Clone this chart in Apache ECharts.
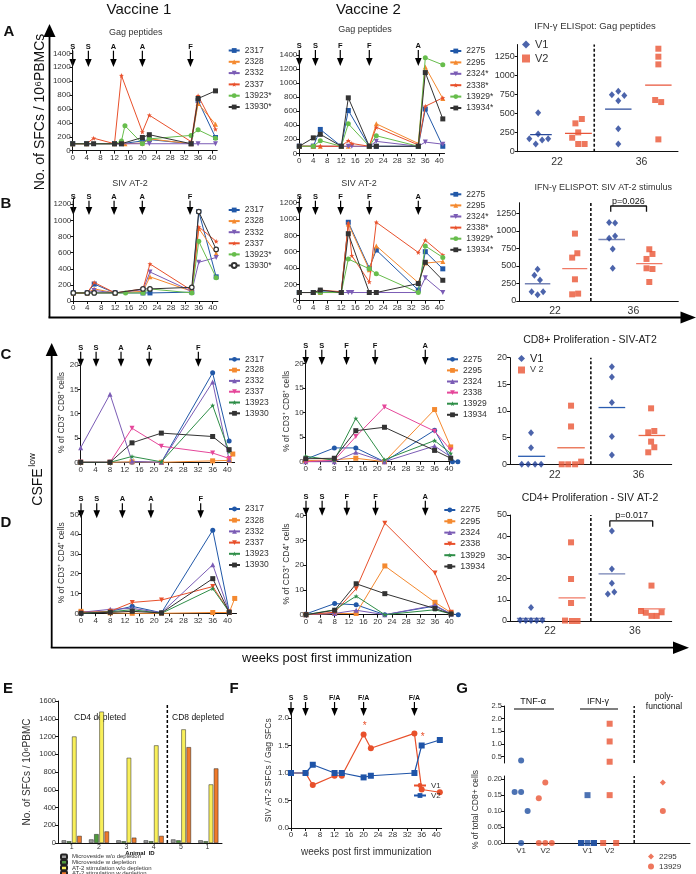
<!DOCTYPE html>
<html><head><meta charset="utf-8">
<script src="https://cdn.jsdelivr.net/npm/echarts@6/dist/echarts.min.js"></script>
<style>html,body{margin:0;padding:0;background:#fff}#c{width:696px;height:874px}</style>
</head><body><div id="c"></div>
<script>
// ================= DATA =================
const idsV1 = ['2317','2328','2332','2337','13923*','13930*'];
const idsV2 = ['2275','2295','2324*','2338*','13929*','13934*'];
const idsV1c = ['2317','2328','2332','2337','13923','13930'];
const idsV2c = ['2275','2295','2324','2338','13929','13934'];
const weekTicks = [0,4,8,12,16,20,24,28,32,36,40];

// Panel A: Gag peptides, SFCs / 10^6 PBMC, [week, value]
const gagV1 = [
  [[0,100],[4,100],[12,100],[14,100],[20,140],[22,160],[34,100],[36,720],[41,190]],
  [[0,100],[4,100],[12,100],[15,100],[20,110],[22,170],[34,100],[36,680],[41,380]],
  [[0,100],[4,100],[12,100],[14,100],[20,100],[22,100],[34,100],[36,100],[41,100]],
  [[0,100],[4,100],[6,180],[12,100],[14,1080],[20,270],[22,510],[34,130],[36,790],[41,310]],
  [[0,100],[4,100],[12,100],[14,140],[15,360],[20,100],[22,170],[34,220],[36,300],[41,180]],
  [[0,100],[4,100],[6,100],[12,100],[14,100],[20,190],[22,230],[34,100],[36,750],[41,860]]
];
const gagV2 = [
  [[0,100],[4,100],[6,340],[12,100],[14,610],[20,100],[22,100],[34,100],[36,630],[41,100]],
  [[0,100],[4,100],[6,100],[12,100],[14,100],[20,100],[22,420],[34,140],[36,1230],[41,780]],
  [[0,100],[4,100],[12,100],[14,100],[15,100],[20,100],[22,170],[34,100],[36,160],[41,130]],
  [[0,100],[4,100],[6,100],[12,100],[14,180],[15,140],[20,100],[22,370],[34,120],[36,670],[41,790]],
  [[0,100],[4,100],[6,180],[12,100],[14,420],[20,100],[22,250],[34,100],[36,1360],[41,1260]],
  [[0,100],[4,220],[6,270],[12,100],[14,790],[20,100],[22,100],[34,100],[36,1150],[41,490]]
];
// Panel B: SIV AT-2
const atV1 = [
  [[0,100],[4,100],[6,210],[12,100],[20,100],[22,100],[34,110],[36,1110],[41,300]],
  [[0,100],[4,100],[6,150],[12,100],[20,120],[22,300],[34,120],[36,900],[41,590]],
  [[0,100],[4,100],[6,130],[12,100],[20,140],[22,360],[34,120],[36,480],[41,540]],
  [[0,100],[4,100],[6,230],[12,100],[20,150],[22,460],[34,130],[36,920],[41,740]],
  [[0,100],[4,100],[6,100],[12,100],[15,100],[20,100],[22,150],[34,100],[36,740],[41,290]],
  [[0,100],[4,100],[6,100],[12,100],[20,150],[22,150],[34,170],[36,1110],[41,640]]
];
const atV2 = [
  [[0,100],[4,100],[6,110],[12,100],[14,960],[20,400],[22,620],[34,130],[36,600],[41,390]],
  [[0,100],[4,100],[6,100],[12,100],[14,940],[20,380],[22,670],[34,220],[36,460],[41,480]],
  [[0,100],[4,100],[6,100],[12,100],[14,100],[15,100],[20,100],[22,100],[34,100],[36,280],[41,100]],
  [[0,100],[4,100],[6,130],[12,110],[14,950],[15,550],[20,230],[22,960],[34,590],[36,740],[41,560]],
  [[0,100],[4,100],[6,100],[12,100],[14,510],[20,390],[22,330],[34,100],[36,670],[41,530]],
  [[0,100],[4,100],[6,130],[12,100],[14,820],[20,100],[22,100],[34,210],[36,470],[41,250]]
];
// Panel C: % CFSE-low of CD3+CD8+
const cd8V1 = [
  [[0,0],[8,0],[14,0],[22,0],[36,18.4],[40.5,4.4]],
  [[0,0],[8,0],[14,0.1],[22,0],[36,0.3],[40.5,0.4],[41.5,1.7]],
  [[0,3.0],[8,14.0],[14,0.2],[22,0],[36,16.5],[40.5,0.5]],
  [[0,0],[8,0],[14,7.0],[22,3.3],[36,1.9],[40.5,0.8]],
  [[0,0],[8,0],[14,1.2],[22,0.1],[36,11.7],[40.5,2.2]],
  [[0,0],[8,0],[14,4.0],[22,6.0],[36,5.3],[40.5,2.6]]
];
const cd8V2 = [
  [[0,0.5],[8,2.8],[14,2.8],[22,0],[36,6.4],[41,0],[42.5,0]],
  [[0,0.2],[8,0.4],[14,0.7],[22,0],[36,10.6],[40.5,3.0]],
  [[0,0],[8,0],[14,1.9],[22,0],[36,3.2],[40.5,1.0]],
  [[0,0],[8,0.3],[14,5.1],[22,11.1],[36,6.2],[40.5,2.4]],
  [[0,1.1],[8,0.3],[14,8.8],[22,0.4],[36,4.3],[40.5,1.7]],
  [[0,0.6],[8,0.7],[14,6.3],[22,7.0],[36,2.3],[40.5,0.7]]
];
// Panel D: % CFSE-low of CD3+CD4+
const cd4V1 = [
  [[0,0],[8,1.0],[14,3.5],[22,0.3],[36,42],[40.5,0.8]],
  [[0,1.0],[8,0.2],[14,0],[22,0],[36,0.4],[40.5,0.4],[42,7.5]],
  [[0,0.5],[8,2.0],[14,2.5],[22,0.3],[36,24.5],[40.5,0.8]],
  [[0,0.3],[8,1.0],[14,5.5],[22,6.7],[36,13.5],[40.5,0.8]],
  [[0,0],[8,0.8],[14,1.8],[22,0],[36,12.5],[40.5,0.7]],
  [[0,0],[8,0.5],[14,1.0],[22,0.2],[36,17.5],[40.5,0.5]]
];
const cd4V2 = [
  [[0,0.3],[8,4.5],[14,4.0],[22,0],[36,3.5],[40.5,0.3],[42.5,0]],
  [[0,0],[8,0.5],[14,0.5],[22,19.7],[36,5.0],[40.5,0.8]],
  [[0,0],[8,0.5],[14,1.8],[22,0],[36,3.8],[40.5,0.3]],
  [[0,0],[8,1.0],[14,10.5],[22,37],[36,16.8],[40.5,1.0]],
  [[0,0],[8,2.0],[14,7.5],[22,0],[36,2.0],[40.5,0.3]],
  [[0,0],[8,1.8],[14,12.5],[22,8.5],[36,2.5],[40.5,0.3]]
];
// immunization arrows
const arrowLabV1 = ['S','S','A','A','F'];
const arrowLabV2 = ['S','S','F','F','A'];
const arrowsA1 = [0,4.5,11.7,20,33.8], arrowsA2 = [0,4.6,11.7,20,34];
const arrowsB1 = [0,4.5,11.7,19.8,33.5], arrowsB2 = [0,4.6,11.8,20,34];
const arrowsC1 = [0,4.2,11,18.7,32.1], arrowsC2 = [0,4.5,11.4,19.4,33.4];
const arrowsD1 = [0,4.3,11.3,19.1,32.7], arrowsD2 = [0,4.5,11.4,19.4,33.3];

// Scatter summaries (week 22 / 36): values and jitter positions
const sA = {v1_22:[513,232,171,101,154,171], v2_22:[430,373,254,184,101,101], v1_36:[794,750,741,671,303,101], v2_36:[1355,1250,1149,680,653,162]};
const jA = {v1_22:[0.51,0.51,0.29,0.45,0.61,0.76], v2_22:[1.60,1.44,1.51,1.36,1.51,1.67], v1_36:[2.51,2.35,2.66,2.51,2.51,2.51], v2_36:[3.51,3.51,3.51,3.43,3.58,3.51]};
const sB = {v1_22:[452,366,299,133,133,90], v2_22:[960,680,618,309,95,105], v1_36:[1117,1112,927,894,741,466], v2_36:[737,670,599,466,456,271]};
const jB = {v1_22:[0.46,0.38,0.52,0.31,0.6,0.46], v2_22:[1.40,1.46,1.33,1.40,1.33,1.48], v1_36:[2.26,2.41,2.41,2.26,2.35,2.35], v2_36:[3.27,3.35,3.2,3.2,3.35,3.27]};
const sC = {v1_22:[5.9,3.1,0,0,0,0], v2_22:[11.0,7.1,0,0,0,0.5], v1_36:[18.3,16.4,11.6,5.2,1.75], v2_36:[10.5,6.0,6.25,4.25,2.25,3.2]};
const jC = {v1_22:[0.52,0.52,0.29,0.45,0.62,0.77], v2_22:[1.51,1.51,1.28,1.44,1.61,1.76], v1_36:[2.52,2.52,2.52,2.52,2.52], v2_36:[3.49,3.42,3.57,3.49,3.42,3.57]};
const sD = {v1_22:[6.4,0.3,0.2,0.2,0.2,0.3], v2_22:[37.1,19.8,8.5,0.2,0,0], v1_36:[42.5,24.5,17.8,12.7,13.7], v2_36:[16.7,4.7,3.9,2.4,2.4,4.1]};
const jD = {v1_22:[0.52,0.25,0.39,0.52,0.66,0.8], v2_22:[1.51,1.51,1.51,1.36,1.53,1.67], v1_36:[2.52,2.52,2.52,2.42,2.58], v2_36:[3.5,3.24,3.36,3.5,3.63,3.75]};

// Panel E: bars
const eCats = ['1','2','3','4','5','1 '];
const eNames = ['Microveside w/o depletion','Microveside w depletion','AT-2 stimulation w/o depletion','AT-2 stimulation w depletion'];
const eGray = [30,40,30,30,40,30];
const eGreen = [20,100,20,20,30,20];
const eYellow = [1200,1480,960,1100,1280,660];
const eOrange = [80,130,60,80,1080,840];

// Panel F: ratio AT-2 / Gag
const fV1 = [[0,1.0],[4,1.0],[6,0.78],[12,0.95],[14,0.95],[20,1.7],[22,1.45],[34,1.72],[36,0.7],[41,0.65]];
const fV2 = [[0,1.0],[4,1.0],[6,1.15],[12,1.0],[14,1.0],[20,0.92],[22,0.95],[34,1.0],[36,1.5],[41,1.6]];
const arrowsF = [0,4,12,20,34];
const arrowLabF = ['S','S','F/A','F/A','F/A'];

// Panel G: % of total CD8+
const gTnfV1 = [0.35,0.16,0.16,0.10,0.0];
const gTnfV2 = [0.19,0.14,0.0,0.0,0.0];
const gIfnV1 = [0.15,0,0,0,0,0];
const gIfnV2 = [1.8,1.1,0.3,0.15,0,0];
const gPoly2295 = [0.19];
const gPoly13929 = [0.1];

// ================= STYLE =================
const FONT = "'Liberation Sans', Arial, Helvetica, sans-serif";
const BLUE='#2158a8', ORANGE='#f4892f', PURPLE='#7b5cb5', RED='#e8502b', GREEN='#67bd4c', BLACK='#333333', PINK='#e5479a', DGREEN='#2f8e48';
const STAR='path://M5,0 L6.2,3.6 L10,3.8 L7,6.1 L8.1,10 L5,7.7 L1.9,10 L3,6.1 L0,3.8 L3.8,3.6 Z';
const DOWN='path://M0,0 L10,0 L5,9 Z';
const stAB1 = [{c:BLUE,s:'rect'},{c:ORANGE,s:'triangle'},{c:PURPLE,s:DOWN},{c:RED,s:STAR},{c:GREEN,s:'circle'},{c:BLACK,s:'rect'}];
const stB1 = [{c:BLUE,s:'rect'},{c:ORANGE,s:'triangle'},{c:PURPLE,s:DOWN},{c:RED,s:STAR},{c:GREEN,s:'circle'},{c:BLACK,s:'circle',hollow:true}];
const stC = [{c:BLUE,s:'circle'},{c:ORANGE,s:'rect'},{c:PURPLE,s:'triangle'},{c:PINK,s:DOWN},{c:DGREEN,s:STAR},{c:BLACK,s:'rect'}];
const stD = [{c:BLUE,s:'circle'},{c:ORANGE,s:'rect'},{c:PURPLE,s:'triangle'},{c:RED,s:DOWN},{c:DGREEN,s:STAR},{c:BLACK,s:'rect'}];

const grids=[], xAxes=[], yAxes=[], series=[], legends=[];
const AX = {color:'#111', width:1};
const lab = (fs) => ({fontSize:fs, color:'#333', fontFamily:FONT});
const plain = v => String(v);

function lineGrid(o){
  const gi = grids.length;
  grids.push({left:o.x0, top:o.y0-o.ymax*o.ys, width:o.xmax*o.xs, height:o.ymax*o.ys});
  xAxes.push({gridIndex:gi, type:'value', min:0, max:o.xmax, axisLine:{show:true,onZero:false,lineStyle:AX},
    axisTick:{show:true,length:3,customValues:o.xTicks||weekTicks,lineStyle:AX},
    axisLabel:Object.assign({customValues:o.xTicks||weekTicks, margin:3, formatter:plain}, lab(o.xfs||8)), splitLine:{show:false}});
  yAxes.push({gridIndex:gi, type:'value', min:0, max:o.ymax, axisLine:{show:true,lineStyle:AX},
    axisTick:{show:true,length:3,customValues:o.yTicks,lineStyle:AX},
    axisLabel:Object.assign({customValues:o.yTicks, margin:2, formatter:o.yFmt||plain}, lab(o.yfs||8)), splitLine:{show:false},
    name:o.yName||'', nameLocation:'middle', nameGap:o.nameGap||20, nameTextStyle:lab(o.nfs||8.5)});
  return gi;
}
function addLines(gi, prefix, ids, data, st, size){
  ids.forEach((id,i)=>{
    const s = st[i];
    series.push({type:'line', name:prefix+id, xAxisIndex:gi, yAxisIndex:gi, data:data[i],
      symbol:s.s, symbolSize:s.hollow?4.5:(size||5), showAllSymbol:true, clip:false,
      lineStyle:{color:s.c,width:1}, itemStyle:{color:s.hollow?'#fff':s.c, borderColor:s.c, borderWidth:s.hollow?1.2:0},
      emphasis:{disabled:true}, z:3+i});
  });
}
function addLegend(prefix, ids, left, top, gap, fs, iw){
  legends.push({orient:'vertical', left, top, padding:0, itemWidth:iw||11, itemHeight:6, itemGap:gap, selectedMode:false,
    data:ids.map(id=>prefix+id), formatter:n=>n.slice(n.indexOf('|')+1),
    textStyle:Object.assign({lineHeight:10}, lab(fs||8.5))});
}
function scatterGrid(o){
  const gi = grids.length;
  grids.push({left:o.left, top:o.y0-o.ymax*o.ys, width:o.width, height:o.ymax*o.ys});
  xAxes.push({gridIndex:gi, type:'value', min:0, max:4, axisLine:{show:true,onZero:false,lineStyle:AX},
    axisTick:{show:false}, axisLabel:Object.assign({customValues:o.xLab, margin:5, formatter:v=>v<2?'22':'36'}, lab(10.5)), splitLine:{show:false}});
  yAxes.push({gridIndex:gi, type:'value', min:0, max:o.ymax, axisLine:{show:true,lineStyle:AX},
    axisTick:{show:true,length:3,customValues:o.yTicks,lineStyle:AX},
    axisLabel:Object.assign({customValues:o.yTicks, margin:3, formatter:plain}, lab(9)), splitLine:{show:false}});
  return gi;
}
const mean = a => a.reduce((s,v)=>s+v,0)/a.length;
function addScatter(gi, prefix, S, J, spans, dashX, mc, sz){
  const pts = (k)=>S[k].map((v,i)=>[J[k][i], v]);
  series.push({type:'scatter', name:prefix+'V1', xAxisIndex:gi, yAxisIndex:gi, symbol:'diamond', symbolSize:sz||[6,7],
    itemStyle:{color:'#1f3d96'}, data:pts('v1_22').concat(pts('v1_36')), z:5, emphasis:{disabled:true}});
  series.push({type:'scatter', name:prefix+'V2', xAxisIndex:gi, yAxisIndex:gi, symbol:'rect', symbolSize:6,
    itemStyle:{color:'#ea5535'}, data:pts('v2_22').concat(pts('v2_36')), z:5, emphasis:{disabled:true}});
  ['v1_22','v2_22','v1_36','v2_36'].forEach((k,i)=>{
    const m = mean(S[k]);
    series.push({type:'line', xAxisIndex:gi, yAxisIndex:gi, data:[[spans[i][0],m],[spans[i][1],m]], symbol:'none',
      lineStyle:{color:k[1]==='1'?mc[0]:mc[1], width:1.3}, z:4, silent:true});
  });
  const ymax = yAxes[gi].max;
  series.push({type:'line', xAxisIndex:gi, yAxisIndex:gi, data:[[dashX,0],[dashX,ymax]], symbol:'none',
    lineStyle:{color:'#111', width:1.6, type:[3,2]}, z:2, silent:true});
}

// ---- Panel A
const gA1 = lineGrid({x0:72.7, xs:3.483, xmax:41.5, y0:150.7, ys:0.06957, ymax:1450, yTicks:[0,200,400,600,800,1000,1200,1400]});
addLines(gA1,'A1|',idsV1,gagV1,stAB1);
addLegend('A1|',idsV1,227.7,45.5,1.3);
const gA2 = lineGrid({x0:299.3, xs:3.5, xmax:41.5, y0:153.3, ys:0.0702, ymax:1450, yTicks:[0,200,400,600,800,1000,1200,1400]});
addLines(gA2,'A2|',idsV2,gagV2,stAB1);
addLegend('A2|',idsV2,449.3,46,1.4);
const gA3 = scatterGrid({left:517.7, width:160.3, y0:151.7, ys:0.076, ymax:1410, yTicks:[0,250,500,750,1000,1250], xLab:[0.98,3.09]});
addScatter(gA3,'A3|',sA,jA,[[0.31,0.85],[1.18,1.85],[2.18,2.84],[3.18,3.84]],1.91,['#2a4a9a','#e8553a']);
legends.push({orient:'vertical', left:522, top:39, padding:0, itemWidth:8, itemHeight:8, itemGap:3, selectedMode:false,
  data:['A3|V1','A3|V2'], formatter:n=>n.slice(3), textStyle:Object.assign({lineHeight:10}, lab(11))});

// ---- Panel B
const gB1 = lineGrid({x0:73.3, xs:3.485, xmax:41.5, y0:301, ys:0.0806, ymax:1280, yTicks:[0,200,400,600,800,1000,1200]});
addLines(gB1,'B1|',idsV1,atV1,stB1);
addLegend('B1|',idsV1,227.7,205,1.1);
const gB2 = lineGrid({x0:299.3, xs:3.5, xmax:41.5, y0:300.7, ys:0.0817, ymax:1270, yTicks:[0,200,400,600,800,1000,1200]});
addLines(gB2,'B2|',idsV2,atV2,stAB1);
addLegend('B2|',idsV2,449.3,189.3,1.1);
const gB3 = scatterGrid({left:519.3, width:159, y0:301, ys:0.0702, ymax:1400, yTicks:[0,250,500,750,1000,1250], xLab:[0.9,2.87]});
addScatter(gB3,'B3|',sB,jB,[[0.14,0.78],[1.08,1.71],[1.99,2.66],[2.94,3.6]],1.80,['#7482b4','#f07a66']);
series.push({type:'line', xAxisIndex:gB3, yAxisIndex:gB3, data:[[2.30,1272],[2.30,1353],[3.2,1353],[3.2,1272]], symbol:'none', lineStyle:{color:'#111',width:1.3}, silent:true});

// ---- Panel C
const gC1 = lineGrid({x0:80.7, xs:3.665, xmax:42, y0:462.3, ys:4.865, ymax:20.5, yTicks:[0,5,10,15,20], yName:'% of CD3⁺ CD8⁺ cells', nameGap:14});
addLines(gC1,'C1|',idsV1c,cd8V1,stC);
addLegend('C1|',idsV1c,228,354.3,0.8);
const gC2 = lineGrid({x0:305.7, xs:3.58, xmax:43, y0:461.7, ys:4.92, ymax:20.5, yTicks:[0,5,10,15,20], yName:'% of CD3⁺ CD8⁺ cells', nameGap:14});
addLines(gC2,'C2|',idsV2c,cd8V2,stC);
addLegend('C2|',idsV2c,446,354.3,1.1);
const gC3 = scatterGrid({left:510, width:161.7, y0:464.3, ys:5.33, ymax:20, yTicks:[0,5,10,15,20], xLab:[1.11,3.18]});
addScatter(gC3,'C3|',sC,jC,[[0.2,0.87],[1.17,1.85],[2.19,2.85],[3.18,3.84]],2.0,['#2a5cb0','#e96a4a']);
legends.push({orient:'vertical', left:518, top:353, padding:0, itemWidth:7, itemHeight:7, itemGap:1, selectedMode:false,
  data:['C3|V1','C3|V2'], formatter:n=>n==='C3|V1'?'{a|V1}':'{b|V 2}',
  textStyle:Object.assign({lineHeight:10, rich:{a:{fontSize:11,color:'#222',fontFamily:FONT},b:{fontSize:9,color:'#444',fontFamily:FONT}}}, lab(10))});

// ---- Panel D
const gD1 = lineGrid({x0:81, xs:3.66, xmax:42.5, y0:613.3, ys:1.98, ymax:51, yTicks:[0,10,20,30,40,50], yName:'% of CD3⁺ CD4⁺ cells', nameGap:14});
addLines(gD1,'D1|',idsV1c,cd4V1,stD);
addLegend('D1|',idsV1c,228,504,1.2);
const gD2 = lineGrid({x0:306, xs:3.583, xmax:43, y0:614.7, ys:2.475, ymax:41, yTicks:[0,10,20,30,40], yName:'% of CD3⁺ CD4⁺ cells', nameGap:14});
addLines(gD2,'D2|',idsV2c,cd4V2,stD);
addLegend('D2|',idsV2c,443.3,505,1.3,9);
const gD3 = scatterGrid({left:510, width:161.7, y0:621, ys:2.12, ymax:50, yTicks:[0,10,20,30,40,50], xLab:[0.99,3.09]});
addScatter(gD3,'D3|',sD,jD,[[0.17,0.87],[1.2,1.87],[2.19,2.85],[3.18,3.84]],2.0,['#7482b4','#f07a66']);
series.push({type:'line', xAxisIndex:gD3, yAxisIndex:gD3, data:[[2.47,44.5],[2.47,47.2],[3.53,47.2],[3.53,44.5]], symbol:'none', lineStyle:{color:'#111',width:1.3}, silent:true});

// ---- Panel E (bars)
const gE = grids.length;
grids.push({left:58, top:701, width:164, height:142});
xAxes.push({gridIndex:gE, type:'category', data:eCats, axisLine:{lineStyle:AX}, axisTick:{show:false},
  axisLabel:Object.assign({margin:1, interval:0}, lab(7))});
yAxes.push({gridIndex:gE, type:'value', min:0, max:1600, interval:200, axisLine:{show:true,lineStyle:AX}, axisTick:{show:true,length:3,lineStyle:AX},
  axisLabel:Object.assign({margin:2, formatter:plain}, lab(7.5)), splitLine:{show:false},
  name:'No. of SFCs / 10⁶PBMC', nameLocation:'middle', nameGap:26, nameTextStyle:lab(10)});
const eCols = ['#9a9a9a','#4f9a3c','#f8ef5a','#ef7a2a'];
[eGray,eGreen,eYellow,eOrange].forEach((d,i)=>{
  series.push({type:'bar', name:'E|'+eNames[i], xAxisIndex:gE, yAxisIndex:gE, data:d, barWidth:4.5, barGap:'15%',
    itemStyle:{color:eCols[i], borderColor:'#222', borderWidth:0.5}, emphasis:{disabled:true}});
  legends.push({orient:'vertical', left:60, top:853.5+i*5.6, padding:0, itemWidth:6, itemHeight:4.5, itemGap:0, selectedMode:false,
    data:['E|'+eNames[i]], formatter:n=>n.slice(2), textStyle:Object.assign({lineHeight:5.6}, lab(6))});
});

// ---- Panel F
const gF = lineGrid({x0:291, xs:3.63, xmax:41.5, y0:828, ys:55, ymax:2.1, yTicks:[0,0.5,1,1.5,2], yFmt:v=>v.toFixed(1),
  yName:'SIV AT-2 SFCs / Gag SFCs', nameGap:18, nfs:8.5});
xAxes[gF].name='weeks post first immunization'; xAxes[gF].nameLocation='middle'; xAxes[gF].nameGap=19; xAxes[gF].nameTextStyle=lab(10);
series.push({type:'line', name:'F|V1', xAxisIndex:gF, yAxisIndex:gF, data:fV1, symbol:'circle', symbolSize:6, lineStyle:{color:'#e8502b',width:1.2}, itemStyle:{color:'#e8502b'}, clip:false});
series.push({type:'line', name:'F|V2', xAxisIndex:gF, yAxisIndex:gF, data:fV2, symbol:'rect', symbolSize:6, lineStyle:{color:'#1f54a8',width:1.2}, itemStyle:{color:'#1f54a8'}, clip:false});
legends.push({orient:'vertical', left:413, top:781, padding:0, itemWidth:12, itemHeight:6, itemGap:1, selectedMode:false,
  data:['F|V1','F|V2'], formatter:n=>n.slice(2), textStyle:Object.assign({lineHeight:9}, lab(8))});

// ---- Panel G (broken axis: upper + lower)
const gGu = grids.length;
grids.push({left:504, top:706, width:186, height:57});
xAxes.push({gridIndex:gGu, type:'value', min:0, max:10, show:false});
yAxes.push({gridIndex:gGu, type:'value', min:0.25, max:2.5, axisLine:{show:true,lineStyle:AX}, axisTick:{show:true,length:3,customValues:[0.5,1,1.5,2,2.5],lineStyle:AX},
  axisLabel:Object.assign({customValues:[0.5,1,1.5,2,2.5], margin:2, formatter:v=>v.toFixed(1)}, lab(7.5)), splitLine:{show:false}});
const gGl = grids.length;
grids.push({left:504, top:776, width:186, height:67});
xAxes.push({gridIndex:gGl, type:'value', min:0, max:10, axisLine:{show:true,onZero:false,lineStyle:AX}, axisTick:{show:false},
  axisLabel:Object.assign({customValues:[0.92,2.22,4.49,5.68], margin:4, formatter:v=>(v<2||(v>4&&v<5))?'V1':'V2'}, lab(8)), splitLine:{show:false}});
yAxes.push({gridIndex:gGl, type:'value', min:0, max:0.21, axisLine:{show:true,lineStyle:AX}, axisTick:{show:true,length:3,customValues:[0,0.05,0.1,0.15,0.2],lineStyle:AX},
  axisLabel:Object.assign({customValues:[0,0.05,0.1,0.15,0.2], margin:2, formatter:v=>v.toFixed(2)}, lab(7.5)), splitLine:{show:false},
  name:'% of total CD8+ cells', nameLocation:'middle', nameGap:24, nameTextStyle:lab(8.5)});
function gPts(vals, x, jit){ return vals.map((v,i)=>[x + (jit? jit[i%jit.length] : 0), v]); }
function addG(vals, x, sym, col, name){
  const lo = gPts(vals.filter(v=>v<=0.21), x, [0,-0.35,0.35]);
  const hi = gPts(vals.filter(v=>v>0.21), x, [0]);
  series.push({type:'scatter', name, xAxisIndex:gGl, yAxisIndex:gGl, data:lo, symbol:sym, symbolSize:6, itemStyle:{color:col}, clip:false});
  series.push({type:'scatter', xAxisIndex:gGu, yAxisIndex:gGu, data:hi, symbol:sym, symbolSize:6, itemStyle:{color:col}, clip:false});
}
addG(gTnfV1,0.92,'circle','#1f4fa0');
addG(gTnfV2,2.22,'circle','#ea5535');
addG(gIfnV1,4.49,'rect','#1f4fa0');
addG(gIfnV2,5.68,'rect','#ea5535');
addG(gPoly2295,8.54,'diamond','#ea5535','G|2295');
addG(gPoly13929,8.54,'circle','#ea5535','G|13929');
series.push({type:'line', xAxisIndex:gGl, yAxisIndex:gGl, data:[[7.0,0],[7.0,0.21]], symbol:'none', lineStyle:{color:'#111',width:1.5,type:[3,2]}, silent:true});
series.push({type:'line', xAxisIndex:gGu, yAxisIndex:gGu, data:[[7.0,0.25],[7.0,2.5]], symbol:'none', lineStyle:{color:'#111',width:1.5,type:[3,2]}, silent:true});
legends.push({orient:'vertical', left:648, top:852, padding:0, itemWidth:6, itemHeight:6, itemGap:1, selectedMode:false,
  data:['G|2295','G|13929'], formatter:n=>n.slice(2), textStyle:Object.assign({lineHeight:9}, lab(8))});

// ================= RENDER =================
const chart = echarts.init(document.getElementById('c'), null, {renderer:'canvas'});
chart.setOption({animation:false, backgroundColor:'#fff', textStyle:{fontFamily:FONT},
  grid:grids, xAxis:xAxes, yAxis:yAxes, series, legend:legends});

const G = [];
const T = (text, x, y, fs, opt) => G.push(Object.assign({type:'text', x, y, style:Object.assign({text, fontSize:fs, fontFamily:FONT, fill:'#111', align:'center', verticalAlign:'middle'}, (opt&&opt.style)||{})}, opt&&opt.el||{}));
const poly = (pts, fill) => G.push({type:'polygon', shape:{points:pts}, style:{fill:fill||'#000'}});
const seg = (x1,y1,x2,y2,w,dash) => G.push({type:'line', shape:{x1,y1,x2,y2}, style:{stroke:'#000', lineWidth:w||1, lineDash:dash}});

// immunization arrows
function arrows(gi, weeks, labs, labY, tipY, fs){
  weeks.forEach((w,i)=>{
    const x = chart.convertToPixel({xAxisIndex:gi, yAxisIndex:gi}, [w,0])[0];
    T(labs[i], x, labY, fs||7.5, {style:{fontWeight:'bold'}});
    seg(x, labY+4, x, tipY-6, 1.2);
    poly([[x-3.3,tipY-8],[x+3.3,tipY-8],[x,tipY]]);
  });
}
arrows(gA1, arrowsA1, arrowLabV1, 46.7, 67);
arrows(gA2, arrowsA2, arrowLabV2, 46, 66);
arrows(gB1, arrowsB1, arrowLabV1, 196.7, 215);
arrows(gB2, arrowsB2, arrowLabV2, 196.7, 215);
arrows(gC1, arrowsC1, arrowLabV1, 347.7, 366.7);
arrows(gC2, arrowsC2, arrowLabV2, 345.7, 365);
arrows(gD1, arrowsD1, arrowLabV1, 499.3, 518.3);
arrows(gD2, arrowsD2, arrowLabV2, 496.7, 515.7);
arrows(gF, arrowsF, arrowLabF, 698, 716, 7);

// headers, titles
T('Vaccine 1', 139, 10, 15);
T('Vaccine 2', 368.5, 10, 15);
T('Gag peptides', 135.8, 32.7, 9, {style:{fill:'#333'}});
T('Gag peptides', 365, 29.3, 9, {style:{fill:'#333'}});
T('IFN-γ ELISpot: Gag peptides', 595, 26.7, 9.5, {style:{fill:'#333'}});
T('SIV AT-2', 130, 183.3, 9, {style:{fill:'#333'}});
T('SIV AT-2', 359, 183.3, 9, {style:{fill:'#333'}});
T('IFN-γ ELISPOT: SIV AT-2 stimulus', 603.3, 187.7, 9, {style:{fill:'#333'}});
T('CD8+ Proliferation - SIV-AT2', 590, 340, 10.5, {style:{fill:'#222'}});
T('CD4+ Proliferation - SIV AT-2', 590, 497.7, 10.5, {style:{fill:'#222'}});
T('p=0.026', 628.3, 201.5, 9);
T('p=0.017', 631.7, 515.7, 9);
// panel letters
[['A',9,32],['B',6,204],['C',6,355],['D',6,523],['E',8,689],['F',234,689],['G',462,689]].forEach(p=>T(p[0],p[1],p[2],15,{style:{fontWeight:'bold'}}));
// big axes
seg(49.5,34,49.5,317.5,1.8); poly([[43.5,37],[55.5,37],[49.5,24]]);
seg(48.5,317.5,682,317.5,1.8); poly([[680.5,311.5],[680.5,323.5],[696,317.5]]);
T('No. of SFCs / 10⁶PBMCs', 40, 112, 14, {el:{rotation:Math.PI/2}});
seg(51.7,352,51.7,647.7,1.8); poly([[45.7,356],[57.7,356],[51.7,343]]);
seg(50.8,647.7,674,647.7,1.8); poly([[673,641.5],[673,654],[689,647.7]]);
T('CSFE', 38.5, 487, 14, {el:{rotation:Math.PI/2}});
T('low', 32.5, 460, 9, {el:{rotation:Math.PI/2}});
T('weeks post first immunization', 327, 658, 13);
// E annotations
T('CD4 depleted', 100, 718, 8.5);
T('CD8 depleted', 198, 718, 8.5);
T('Animal  ID', 140, 853, 6, {style:{fontWeight:'bold'}});
{
  const p3 = chart.convertToPixel({xAxisIndex:gE, yAxisIndex:gE}, [3, 0]);
  const p4 = chart.convertToPixel({xAxisIndex:gE, yAxisIndex:gE}, [4, 1560]);
  const xm = (p3[0]+p4[0])/2;
  seg(xm, p3[1], xm, p4[1], 1.5, [3,2]);
}
// F asterisks
[[20,1.7],[36,1.5]].forEach(p=>{const q=chart.convertToPixel({xAxisIndex:gF,yAxisIndex:gF},[p[0],p[1]]); T('*',q[0]+1,q[1]-8,10,{style:{fill:'#e8502b'}});});
// G annotations
T('TNF-α', 533, 702, 9);
T('IFN-γ', 598, 702, 9);
T('poly-', 664, 697, 8.5);
T('functional', 664, 707, 8.5);
seg(514,709,554,709,1); seg(580,709,618,709,1);

chart.setOption({graphic:G});
</script></body></html>
